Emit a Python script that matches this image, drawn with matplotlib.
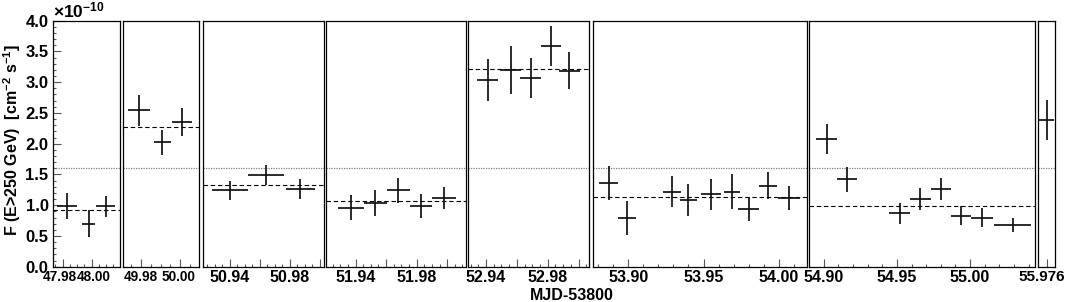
"""Nightly integral flux light curve, broken MJD axis (one panel per night)."""

import matplotlib

matplotlib.use("Agg")
import matplotlib.pyplot as plt
import matplotlib.transforms as mtransforms
import numpy as np
from matplotlib.ticker import FixedLocator, MultipleLocator, NullFormatter

plt.rcParams["font.family"] = ["Liberation Sans", "DejaVu Sans"]
plt.rcParams["font.weight"] = "bold"
plt.rcParams["mathtext.fontset"] = "custom"
plt.rcParams["mathtext.rm"] = "Liberation Sans:bold"
plt.rcParams["mathtext.default"] = "rm"

# --- data: MJD-53800, bin half-widths, flux (1e-10 cm^-2 s^-1) and errors, per night
mjd = [
    [47.983, 47.998, 48.010],
    [49.979, 49.991, 50.001],
    [50.940, 50.964, 50.987],
    [51.937, 51.953, 51.968, 51.983, 51.998],
    [52.941, 52.956, 52.969, 52.982, 52.994],
    [53.887, 53.899, 53.929, 53.940, 53.955, 53.969, 53.980, 53.993, 54.007],
    [54.902, 54.916, 54.952, 54.966, 54.980, 54.994, 55.008, 55.029],
    [55.976],
]
mjd_halfwidth = [
    [0.0071, 0.0046, 0.0066],
    [0.0056, 0.0045, 0.0053],
    [0.0122, 0.0120, 0.0097],
    [0.0084, 0.0074, 0.0075, 0.0072, 0.0077],
    [0.0067, 0.0069, 0.0067, 0.0065, 0.0067],
    [0.0062, 0.0058, 0.0057, 0.0058, 0.0069, 0.0055, 0.0068, 0.0060, 0.0075],
    [0.0070, 0.0070, 0.0072, 0.0072, 0.0070, 0.0068, 0.0077, 0.0126],
    [0.0051],
]
flux = [
    [0.99, 0.70, 0.98],
    [2.54, 2.02, 2.35],
    [1.24, 1.49, 1.26],
    [0.96, 1.04, 1.24, 0.99, 1.12],
    [3.03, 3.20, 3.07, 3.59, 3.19],
    [1.36, 0.79, 1.22, 1.08, 1.18, 1.22, 0.94, 1.32, 1.12],
    [2.08, 1.42, 0.87, 1.10, 1.27, 0.83, 0.80, 0.68],
    [2.39],
]
flux_err = [
    [0.21, 0.225, 0.17],
    [0.26, 0.21, 0.23],
    [0.16, 0.16, 0.16],
    [0.20, 0.21, 0.21, 0.19, 0.18],
    [0.34, 0.385, 0.32, 0.33, 0.30],
    [0.27, 0.28, 0.25, 0.26, 0.25, 0.28, 0.20, 0.22, 0.19],
    [0.24, 0.20, 0.17, 0.18, 0.18, 0.16, 0.15, 0.12],
    [0.325],
]
night_mean = [0.92, 2.27, 1.33, 1.063, 3.21, 1.128, 0.98, None]
reference_flux = 1.6

tick_values = [
    [47.98, 48.00],
    [49.98, 50.00],
    [50.94, 50.98],
    [51.94, 51.98],
    [52.94, 52.98],
    [53.90, 53.95, 54.00],
    [54.90, 54.95, 55.00],
    [55.976],
]
tick_labels = [
    ["47.98", "48.00"],
    ["49.98", "50.00"],
    ["50.94", "50.98"],
    ["51.94", "51.98"],
    ["52.94", "52.98"],
    ["53.90", "53.95", "54.00"],
    ["54.90", "54.95", "55.00"],
    ["55.976"],
]

# --- layout (pixels of a 1069x302 canvas) and axis ranges
W, H = 1069, 302
TOP, BOTTOM = 20.7, 266.7
panel_px = [
    (52.7, 119.5), (122.7, 199.3), (202.5, 324.0), (326.5, 466.0),
    (468.0, 589.3), (593.3, 806.5), (809.3, 1035.0), (1038.3, 1055.0),
]
xlims = [
    (47.9731, 48.0194), (49.9706, 50.0099), (50.9218, 51.0027), (51.921, 52.0123),
    (52.9283, 53.0070), (53.8767, 54.0185), (54.8902, 55.0443), (55.9701, 55.9815),
]
tall_step = [0.02, 0.02, 0.02, 0.02, 0.02, 0.05, 0.05, None]
minor_step = [0.005, 0.005, 0.005, 0.005, 0.005, 0.01, 0.01, None]
label_size = [9.8, 9.8, 11.5, 11.5, 11.5, 11.5, 11.5, 11]
label_shift = [(-3, 2), (0, -2), None, None, None, None, None, (-5,)]

fig = plt.figure(figsize=(W / 100, H / 100), dpi=100)

for i, (x0, x1) in enumerate(panel_px):
    ax = fig.add_axes([x0 / W, 1 - BOTTOM / H, (x1 - x0) / W, (BOTTOM - TOP) / H])
    ax.set_xlim(*xlims[i])
    ax.set_ylim(0, 4.0)
    for s in ax.spines.values():
        s.set_linewidth(0.9)
        s.set_color("black")

    ax.axhline(reference_flux, color="#808080", lw=0.9, ls=(0, (1, 1)))
    if night_mean[i] is not None:
        ax.axhline(night_mean[i], color="black", lw=0.8, ls=(0, (4, 2.5)))
    ax.errorbar(mjd[i], flux[i], xerr=mjd_halfwidth[i], yerr=flux_err[i],
                fmt="none", ecolor="#111111", elinewidth=1.25, capsize=0)

    if tall_step[i] is None:
        ax.xaxis.set_major_locator(FixedLocator(tick_values[i]))
    else:
        ax.xaxis.set_major_locator(MultipleLocator(tall_step[i]))
        ax.xaxis.set_minor_locator(MultipleLocator(minor_step[i]))
    ax.xaxis.set_major_formatter(NullFormatter())
    ax.tick_params(axis="x", which="major", direction="in", length=5.5, width=0.8,
                   color="#555555", top=False)
    ax.tick_params(axis="x", which="minor", direction="in", length=2.5, width=0.8,
                   color="#555555", top=False)

    # tick labels as text so the crowded narrow panels can be nudged apart
    trans = ax.get_xaxis_transform()
    for k, (v, lab) in enumerate(zip(tick_values[i], tick_labels[i])):
        dx = label_shift[i][k] if label_shift[i] else 0
        t = mtransforms.offset_copy(trans, fig=fig, x=dx, y=-3, units="dots")
        ax.text(v, 0, lab, transform=t, ha="center", va="top",
                fontsize=label_size[i], fontweight="bold")

    if i == 0:
        ax.yaxis.set_major_locator(MultipleLocator(0.5))
        ax.yaxis.set_minor_locator(MultipleLocator(0.1))
        ax.yaxis.set_major_formatter(lambda v, p: f"{v:.1f}")
        ax.tick_params(axis="y", which="major", direction="in", length=5.5, width=0.8,
                       color="#555555", right=False, labelsize=12, pad=3)
        ax.tick_params(axis="y", which="minor", direction="in", length=2.5, width=0.8,
                       color="#555555", right=False)
        for lab in ax.get_yticklabels():
            lab.set_fontweight("bold")
    else:
        ax.set_yticks([])

fig.text(12 / W, 1 - 140 / H, "F (E>250 GeV)  [cm$^{-2}$ s$^{-1}$]",
         rotation=90, ha="center", va="center", fontsize=11.5, fontweight="bold")
fig.text(53 / W, 1 - 10 / H, "×10$^{-10}$", ha="left", va="center", fontsize=12.5)
fig.text(530 / W, 1 - 295 / H, "MJD-53800", ha="left", va="center",
         fontsize=11.5, fontweight="bold")

fig.savefig("out.png", dpi=100)
